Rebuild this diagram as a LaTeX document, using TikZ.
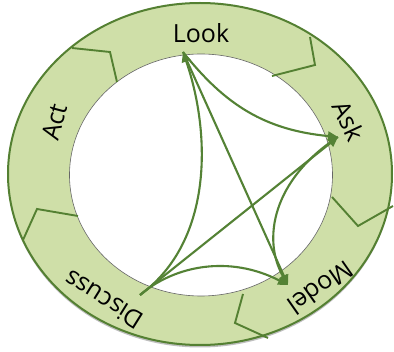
\documentclass[tikz,border=0pt]{standalone}
\usepackage{fontspec}
\setmainfont{Open Sans}
\usetikzlibrary{arrows.meta}
\definecolor{ringfill}{RGB}{207,223,168}
\definecolor{ringline}{RGB}{84,128,50}
\definecolor{arrowgreen}{RGB}{84,130,53}
\begin{document}
\begin{tikzpicture}[x=1pt,y=-1pt,
  seg/.style={draw=ringline, line width=1.9pt, line join=miter},
  link/.style={draw=arrowgreen, line width=2.1pt},
  tipped/.style={link, -{Triangle[length=10pt,width=9pt]}},
  lbl/.style={font=\fontsize{25}{25}\selectfont, text=black, inner sep=0pt}]
\useasboundingbox (0,0) rectangle (394,352);
% shadow and ring
\fill[black!25] (200,176.5) ellipse [x radius=192pt, y radius=171pt];
\filldraw[fill=ringfill, draw=ringline, line width=2pt] (200,174) ellipse [x radius=192pt, y radius=171pt];
\filldraw[fill=white, draw=black!60, line width=0.6pt] (201,175) ellipse [x radius=131.5pt, y radius=121pt];
% segment boundaries (chevrons)
\draw[seg] (72,48) -- (110,52) -- (117,82);
\draw[seg] (310,37) -- (315,65) -- (272,76);
\draw[seg] (393,206) -- (358,226) -- (332,197);
\draw[seg] (243,294) -- (235,323) -- (268,338);
\draw[seg] (23,240) -- (37,209) -- (78,216);
% hub points
\coordinate (look) at (183,52);
\coordinate (ask) at (338,137);
\coordinate (model) at (288,285);
\coordinate (disc) at (140,295);
% labels
\node[lbl] (tlook) at (201,33) {Look};
\node[lbl, rotate=-65] (task) at (349,121) {Ask};
\node[lbl, rotate=215] (tmodel) at (321,288) {Model};
\node[lbl, rotate=148] (tdisc) at (104,300) {Discuss};
\node[lbl, rotate=75] (tact) at (55,122) {Act};
% connectors
\draw[tipped] (disc) .. controls (215,240) and (210,130) .. (look);
\draw[tipped] (look) .. controls (225,105) and (265,130) .. (ask);
\draw[tipped] (look) -- (model);
\draw[tipped] (disc) -- (ask);
\draw[tipped] (ask) .. controls (272,180) and (262,240) .. (model);
\draw[tipped] (disc) .. controls (175,265) and (230,255) .. (model);
\end{tikzpicture}
\end{document}
